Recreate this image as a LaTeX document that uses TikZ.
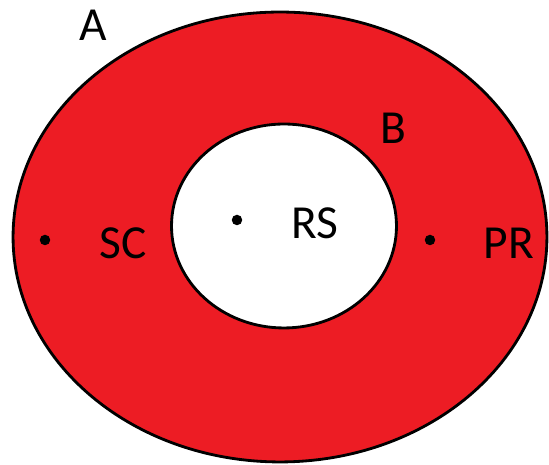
\documentclass[tikz,border=0pt]{standalone}
\usepackage{fontspec}
\setmainfont{Carlito}
\usepackage{tikz}
\usetikzlibrary{shapes.geometric}
\definecolor{setRed}{HTML}{ED1C24}
\tikzset{
  setregion/.style={ellipse,draw=black,line width=1.6pt,inner sep=0pt},
  setdot/.style={circle,fill=black,inner sep=0pt,minimum size=0.21cm},
  setlabel/.style={inner sep=0pt,font=\fontsize{27}{32}\selectfont}
}
\begin{document}
\begin{tikzpicture}[x=0.02cm,y=0.02cm]
  \useasboundingbox (0,0) rectangle (549,465);
  \node[setregion,fill=setRed,minimum width=10.68cm,minimum height=9cm] (outer) at (280,228) {};
  \node[setregion,fill=white,minimum width=4.5cm,minimum height=4.08cm] (inner) at (284,239) {};
  \node[setlabel] (lblA) at (93,440) {A};
  \node[setlabel] (lblB) at (393,337) {B};
  \node[setdot] (dotSC) at (45,225) {};
  \node[setlabel] (lblSC) at (123,222) {SC};
  \node[setdot] (dotRS) at (237,245) {};
  \node[setlabel] (lblRS) at (315,242) {RS};
  \node[setdot] (dotPR) at (430,225) {};
  \node[setlabel] (lblPR) at (509,222) {PR};
\end{tikzpicture}
\end{document}
